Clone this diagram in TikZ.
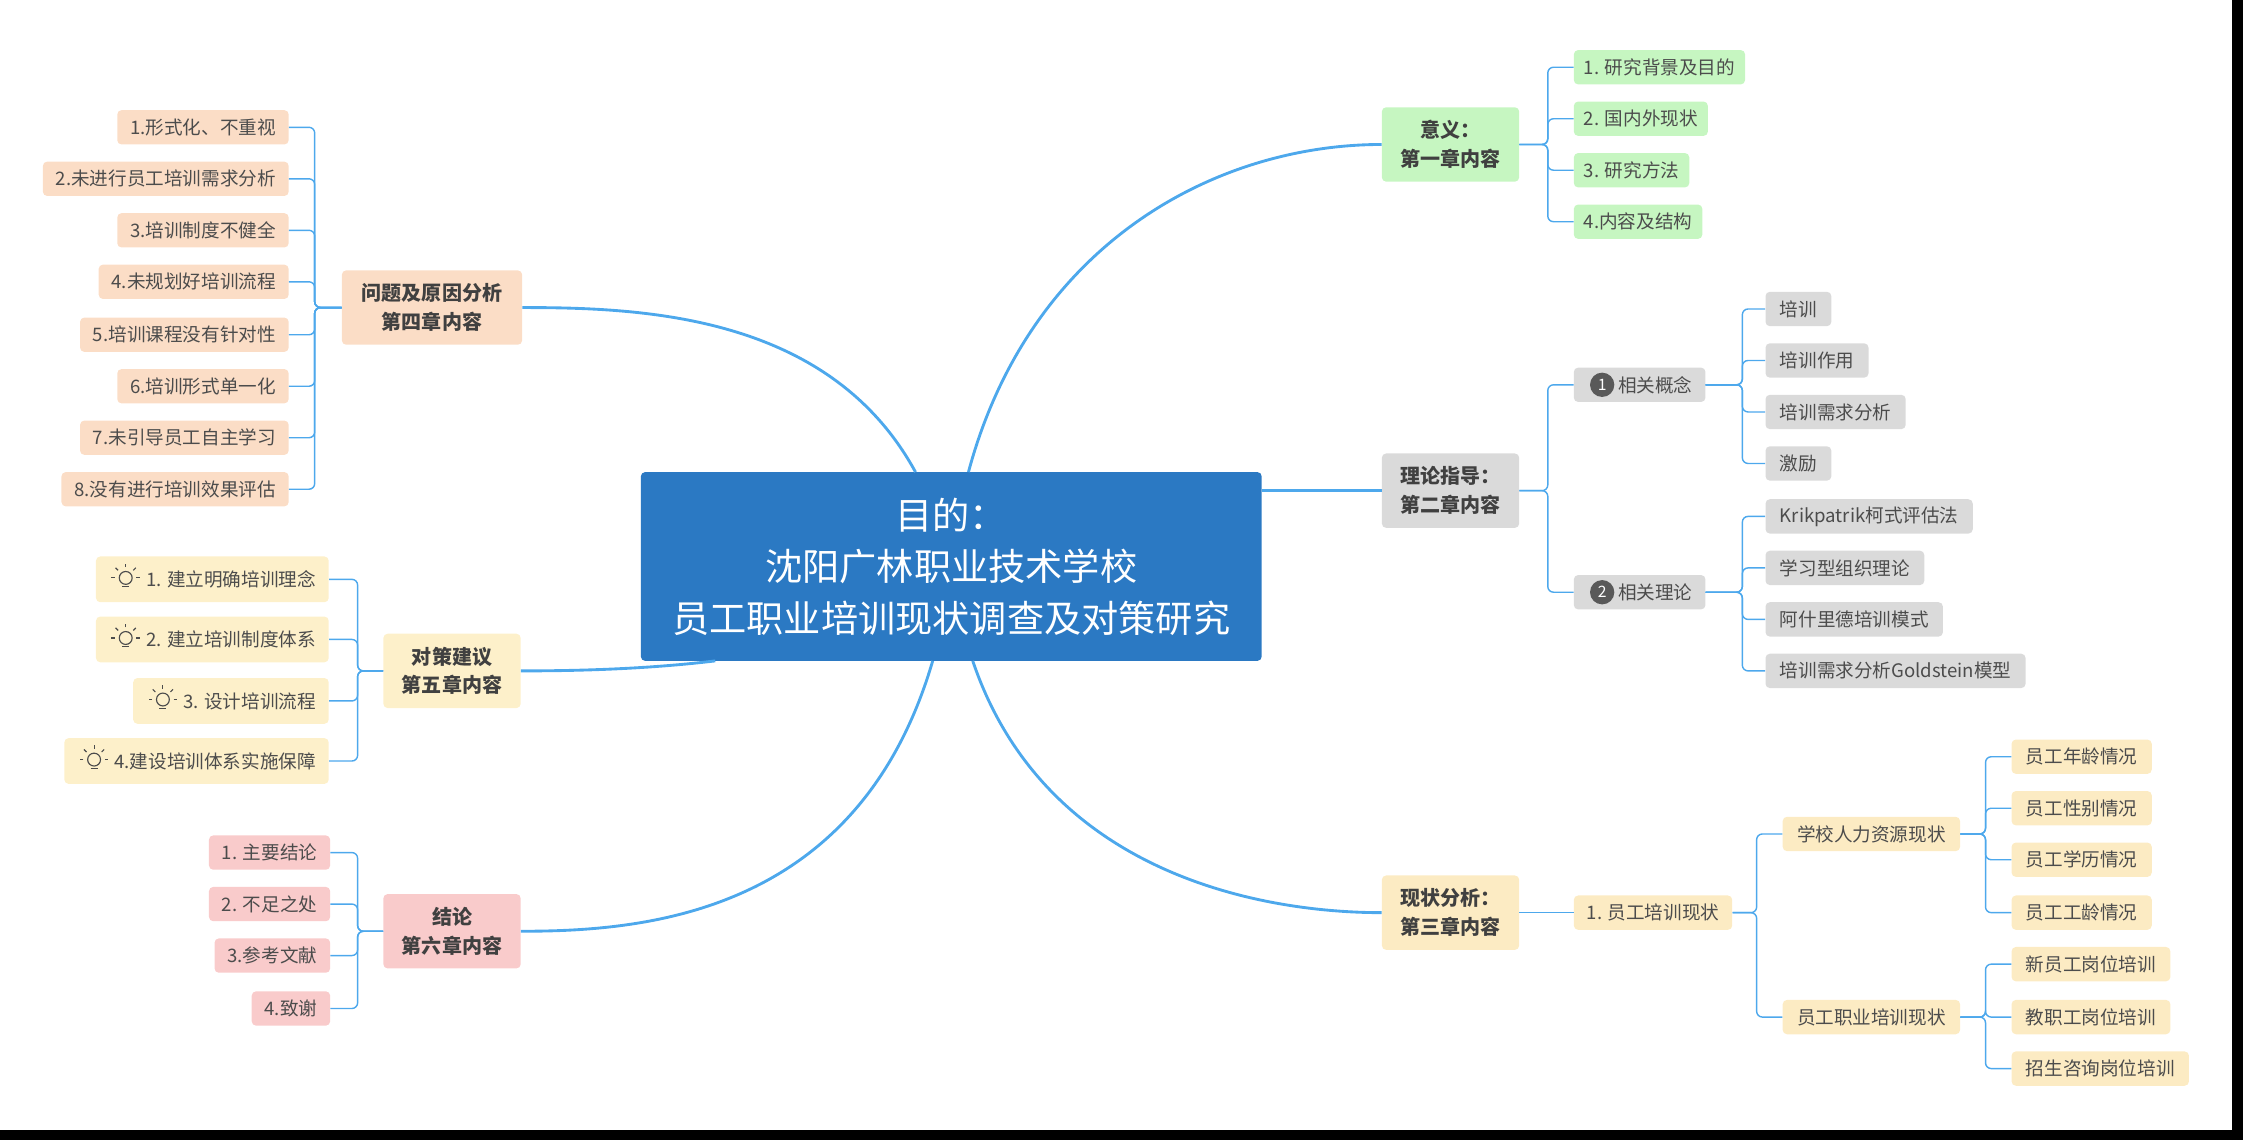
\documentclass[tikz,border=0pt]{standalone}
\usepackage{fontspec}
\setmainfont{Noto Sans CJK SC}
\begin{document}
\begin{tikzpicture}[x=1pt,y=1pt,
 leaf/.style={rounded corners=3pt,inner xsep=7pt,minimum height=24pt,font=\fontsize{13}{15}\selectfont,text=black!70},
 main/.style={rounded corners=3pt,minimum width=96pt,minimum height=52pt,align=center,font=\fontsize{14}{20}\selectfont\bfseries,text=black!75},
 conn/.style={draw=lb,line width=2pt},
 br/.style={draw=lb,line width=1pt,rounded corners=4pt}]
\definecolor{cg}{HTML}{C6F6C1}\definecolor{cgr}{HTML}{DADADA}\definecolor{cb}{HTML}{FCEBC3}
\definecolor{cp}{HTML}{FBDDC6}\definecolor{cy}{HTML}{FDF0CA}\definecolor{ck}{HTML}{F9CBCB}
\definecolor{cblue}{HTML}{2B79C3}\definecolor{lb}{HTML}{4DA8EC}
\useasboundingbox (0,0) rectangle (1568,-797);
\fill[black] (0,-790) rectangle (1568,-797);
\fill[black] (1560,0) rectangle (1568,-797);
% center
\node[fill=cblue,rounded corners=3pt,minimum width=434pt,minimum height=132pt,align=center,text=white,font=\fontsize{26}{36}\selectfont] (c) at (665,-396) {目的：\\沈阳广林职业技术学校\\员工职业培训现状调查及对策研究};
% main nodes
\node[main,fill=cg] (m1) at (1014,-101) {意义：\\第一章内容};
\node[main,fill=cgr] (m2) at (1014,-343) {理论指导：\\第二章内容};
\node[main,fill=cb] (m3) at (1014,-638) {现状分析：\\第三章内容};
\node[main,fill=cp,minimum width=126pt] (m4) at (302,-215) {问题及原因分析\\第四章内容};
\node[main,fill=cy] (m5) at (316,-469) {对策建议\\第五章内容};
\node[main,fill=ck] (m6) at (316,-651) {结论\\第六章内容};
% main connectors
\draw[conn] (677,-330) .. controls (720,-170) and (850,-101) .. (m1.west);
\draw[conn] (882,-343) -- (m2.west);
\draw[conn] (680,-462) .. controls (730,-610) and (880,-638) .. (m3.west);
\draw[conn] (640,-330) .. controls (580,-220) and (450,-215) .. (m4.east);
\draw[conn] (500,-462) .. controls (450,-468) and (400,-469) .. (m5.east);
\draw[conn] (652,-462) .. controls (600,-640) and (450,-651) .. (m6.east);
% chapter 1
\foreach \t/\y [count=\i] in {1. 研究背景及目的/47,2. 国内外现状/83,3. 研究方法/119,4.内容及结构/155}{
 \node[leaf,fill=cg,anchor=west] (g\i) at (1100,-\y) {\t};
 \draw[br] (m1.east) -| ([xshift=-18pt]g\i.west) -- (g\i.west);}
% chapter 2
\node[leaf,fill=cgr,anchor=west,inner xsep=9pt] (k1) at (1100,-269) {\hspace{22pt}相关概念};
\node[leaf,fill=cgr,anchor=west,inner xsep=9pt] (k2) at (1100,-414) {\hspace{22pt}相关理论};
\foreach \k/\n in {k1/1,k2/2}{\node[circle,fill=black!65,text=white,inner sep=0pt,minimum size=17pt,font=\fontsize{11}{11}\selectfont] at ([xshift=20pt]\k.west) {\n};
 \draw[br] (m2.east) -| ([xshift=-18pt]\k.west) -- (\k.west);}
\foreach \t/\y/\p [count=\i] in {培训/216/k1,培训作用/252/k1,培训需求分析/288/k1,激励/324/k1,Krikpatrik柯式评估法/361/k2,学习型组织理论/397/k2,阿什里德培训模式/433/k2,培训需求分析Goldstein模型/469/k2}{
 \node[leaf,fill=cgr,anchor=west,inner xsep=10pt] (t\i) at (1234,-\y) {\t};
 \draw[br] (\p.east) -| ([xshift=-16pt]t\i.west) -- (t\i.west);}
% chapter 3
\node[leaf,fill=cb,anchor=west,inner xsep=9pt] (s1) at (1100,-638) {1. 员工培训现状};
\draw[br] (m3.east) -- (s1.west);
\node[leaf,fill=cb,anchor=west,inner xsep=10pt] (s2) at (1246,-583) {学校人力资源现状};
\node[leaf,fill=cb,anchor=west,inner xsep=10pt] (s3) at (1246,-711) {员工职业培训现状};
\foreach \k in {s2,s3}{\draw[br] (s1.east) -| ([xshift=-18pt]\k.west) -- (\k.west);}
\foreach \t/\y/\p [count=\i] in {员工年龄情况/529/s2,员工性别情况/565/s2,员工学历情况/601/s2,员工工龄情况/638/s2,新员工岗位培训/674/s3,教职工岗位培训/711/s3,招生咨询岗位培训/747/s3}{
 \node[leaf,fill=cb,anchor=west,inner xsep=10pt] (u\i) at (1406,-\y) {\t};
 \draw[br] (\p.east) -| ([xshift=-18pt]u\i.west) -- (u\i.west);}
% chapter 4
\foreach \t/\y [count=\i] in {1.形式化、不重视/89,2.未进行员工培训需求分析/125,3.培训制度不健全/161,4.未规划好培训流程/197,5.培训课程没有针对性/234,6.培训形式单一化/270,7.未引导员工自主学习/306,8.没有进行培训效果评估/342}{
 \node[leaf,fill=cp,anchor=east,inner xsep=9pt] (p\i) at (202,-\y) {\t};
 \draw[br] (m4.west) -| ([xshift=18pt]p\i.east) -- (p\i.east);}
% chapter 5
\foreach \t/\y [count=\i] in {1. 建立明确培训理念/405,2. 建立培训制度体系/447,3. 设计培训流程/490,4.建设培训体系实施保障/532}{
 \node[leaf,fill=cy,anchor=east,minimum height=32pt,inner xsep=9pt] (y\i) at (230,-\y) {\hspace{26pt}\t};
 \begin{scope}[shift={([xshift=21pt]y\i.west)},draw=black!70,line width=0.8pt]
  \draw (0,1) circle (4.5pt); \draw (-2.5,-5) -- (2.5,-5);
  \foreach \a in {0,45,90,135,180}{\draw (\a:7.5pt)++(0,1) -- ++(\a:2.5pt);}
 \end{scope}
 \draw[br] (m5.west) -| ([xshift=20pt]y\i.east) -- (y\i.east);}
% chapter 6
\foreach \t/\y [count=\i] in {1. 主要结论/596,2. 不足之处/632,3.参考文献/668,4.致谢/705}{
 \node[leaf,fill=ck,anchor=east,inner xsep=9pt] (r\i) at (231,-\y) {\t};
 \draw[br] (m6.west) -| ([xshift=19pt]r\i.east) -- (r\i.east);}
\end{tikzpicture}
\end{document}
